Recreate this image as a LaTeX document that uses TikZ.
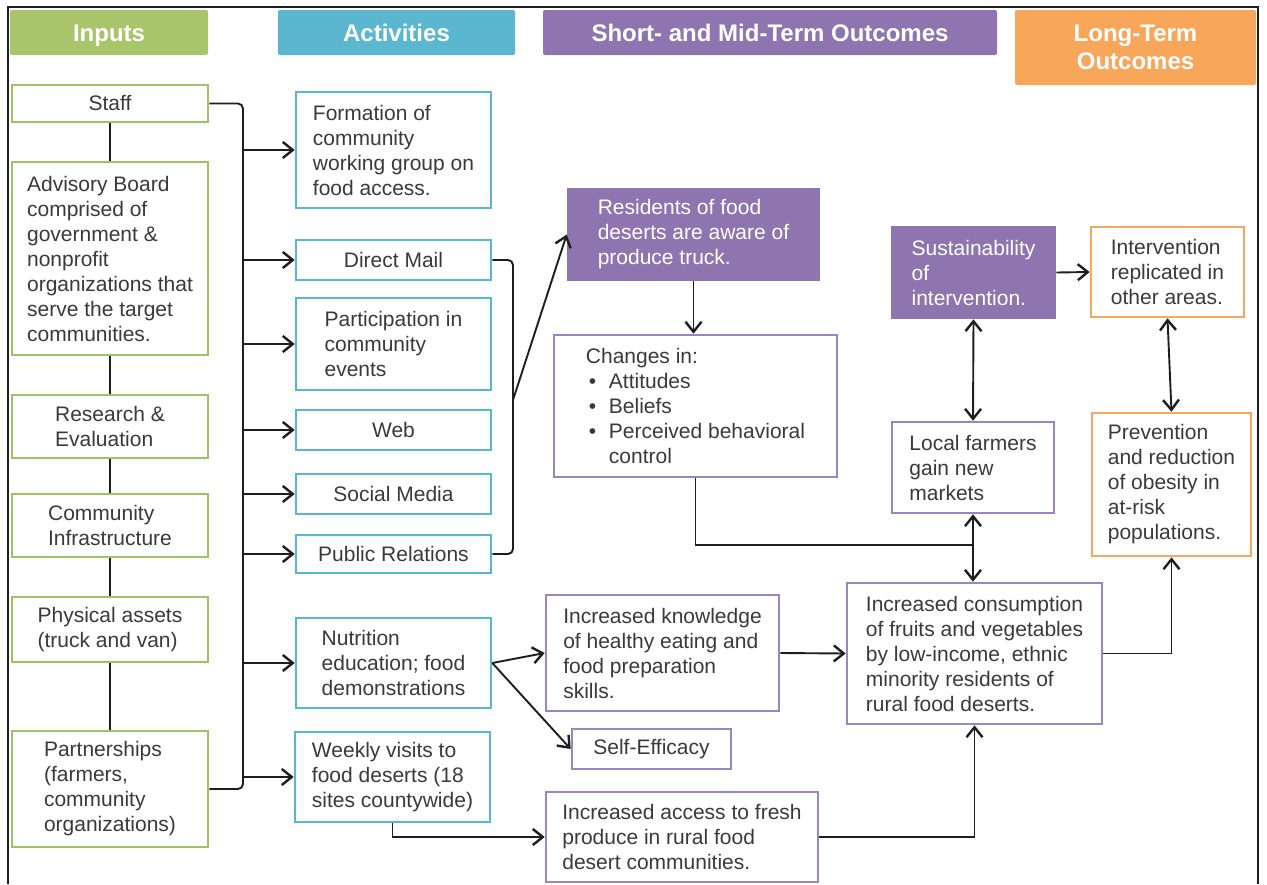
\documentclass[tikz,border=0pt]{standalone}
\usepackage{fontspec}
\setmainfont{Liberation Sans}
\usetikzlibrary{arrows.meta}
\definecolor{gfill}{HTML}{A8C56B}
\definecolor{gline}{HTML}{A0C262}
\definecolor{bfill}{HTML}{5BB7D0}
\definecolor{bline}{HTML}{55B8D4}
\definecolor{pfill}{HTML}{8E75B0}
\definecolor{pline}{HTML}{9C85C2}
\definecolor{ofill}{HTML}{F8A65A}
\definecolor{oline}{HTML}{F7A75E}
\definecolor{txt}{HTML}{3A3A3A}
\definecolor{lc}{HTML}{1E1E1E}
\newcommand\bx[7]{\node[#1, minimum width={#5-#3}, minimum height={#6-#4}] (#2) at ({(#3+#5)/2},{(#4+#6)/2}) {#7};}
\begin{document}
\begin{tikzpicture}[x=1pt,y=-1pt,
  base/.style={draw, line width=2.6pt, fill=white, align=left, text=txt, inner sep=0pt,
    font=\fontsize{21}{25}\selectfont},
  gbox/.style={base, draw=gline},
  bbox/.style={base, draw=bline},
  pbox/.style={base, draw=pline},
  obox/.style={base, draw=oline},
  pfbox/.style={base, draw=pfill, fill=pfill, text=white},
  hdr/.style={draw=none, rounded corners=2pt, text=white, align=center, inner sep=0pt,
    font=\bfseries\fontsize{24}{28}\selectfont},
  hdr1/.style={hdr, text height=17pt, text depth=0pt},
  conn/.style={draw=lc, line width=1.9pt},
  arr/.style={conn, -{Straight Barb[length=10pt,width=16pt,line width=2.4pt]}},
  darr/.style={conn, {Straight Barb[length=10pt,width=16pt,line width=2.4pt]}-{Straight Barb[length=10pt,width=16pt,line width=2.4pt]}}
]
\useasboundingbox (0,0) rectangle (1267,884);
\draw[line width=2pt, lc] (8,884) -- (8,7) -- (1258,7) -- (1258,884);

% headers
\bx{hdr1, fill=gfill}{h1}{10}{10}{208}{55}{Inputs}
\bx{hdr1, fill=bfill}{h2}{278}{10}{515}{55}{Activities}
\bx{hdr1, fill=pfill}{h3}{543}{10}{997}{55}{Short- and Mid-Term Outcomes}
\bx{hdr, fill=ofill}{h4}{1015}{10}{1256}{85}{Long-Term\\Outcomes}

% inputs
\bx{gbox}{staff}{12}{85}{208}{122}{Staff}
\bx{gbox}{adv}{12}{162}{208}{355}{Advisory Board\\comprised of\\government \&\\nonprofit\\organizations that\\serve the target\\communities.}
\bx{gbox}{res}{12}{395}{208}{458}{Research \&\\Evaluation}
\bx{gbox}{cinf}{12}{494}{208}{557}{Community\\Infrastructure}
\bx{gbox}{phys}{12}{597}{208}{662}{Physical assets\\(truck and van)}
\bx{gbox}{part}{12}{731}{208}{847}{Partnerships\\(farmers,\\community\\organizations)}

% activities
\bx{bbox}{form}{296}{92}{491}{208}{Formation of\\community\\working group on\\food access.}
\bx{bbox}{dm}{296}{240}{491}{280}{Direct Mail}
\bx{bbox}{pce}{296}{298}{491}{390}{Participation in\\community\\events}
\bx{bbox}{web}{296}{410}{491}{450}{Web}
\bx{bbox}{sm}{296}{474}{491}{514}{Social Media}
\bx{bbox}{pr}{296}{535}{491}{573}{Public Relations}
\bx{bbox}{nut}{296}{618}{491}{708}{Nutrition\\education; food\\demonstrations}
\bx{bbox}{wk}{295}{732}{490}{822}{Weekly visits to\\food deserts (18\\sites countywide)}

% short / mid-term outcomes
\bx{pfbox}{resid}{568}{189}{819}{280}{Residents of food\\deserts are aware of\\produce truck.}
\bx{pbox}{chg}{554}{335}{837}{477}{Changes in:\\\hspace*{3pt}\makebox[20pt][l]{\textbullet}Attitudes\\\hspace*{3pt}\makebox[20pt][l]{\textbullet}Beliefs\\\hspace*{3pt}\makebox[20pt][l]{\textbullet}Perceived behavioral\\\hspace*{23pt}control}
\bx{pfbox}{sus}{892}{227}{1055}{318}{Sustainability\\of\\intervention.}
\bx{pbox}{loc}{892}{422}{1054}{513}{Local farmers\\gain new\\markets}
\bx{pbox}{kno}{546}{595}{779}{711}{Increased knowledge\\of healthy eating and\\food preparation\\skills.}
\bx{pbox}{se}{572}{729}{731}{769}{Self-Efficacy}
\bx{pbox}{acc}{546}{792}{818}{882}{Increased access to fresh\\produce in rural food\\desert communities.}
\bx{pbox}{con}{847}{583}{1102}{724}{Increased consumption\\of fruits and vegetables\\by low-income, ethnic\\minority residents of\\rural food deserts.}

% long-term outcomes
\bx{obox}{intv}{1091}{227}{1244}{317}{Intervention\\replicated in\\other areas.}
\bx{obox}{prev}{1092}{413}{1251}{556}{Prevention\\and reduction\\of obesity in\\at-risk\\populations.}

% connectors: inputs chain
\draw[conn] (staff.south) -- (adv.north);
\draw[conn] (adv.south) -- (res.north);
\draw[conn] (res.south) -- (cinf.north);
\draw[conn] (cinf.south) -- (phys.north);
\draw[conn] (phys.south) -- (part.north);

% inputs bracket
\coordinate (bar) at (243,0);
\draw[conn, rounded corners=5pt] (staff.east) -- (bar |- staff.east) -- (bar |- part.east) -- (part.east);
\foreach \n in {form,dm,pce,web,sm,pr,nut,wk}
  \draw[arr] (bar |- \n.west) -- (\n.west);

% activities bracket
\coordinate (bar2) at (513,0);
\draw[conn, rounded corners=5pt] (dm.east) -- (bar2 |- dm.east) -- (bar2 |- pr.east) -- (pr.east);
\coordinate (j1) at (513,400);
\draw[arr] (j1) -- (resid.west);

\draw[arr] (resid.south) -- (resid.south |- chg.north);
\coordinate (j2) at (973,545);
\draw[conn] (chg.south) |- (j2);
\draw[darr] (loc.south) -- (loc.south |- con.north);
\draw[darr] (sus.south) -- (loc.north);
\draw[arr] (sus.east) -- (intv.west);
\draw[darr] (intv.south) -- (prev.north);
\draw[arr] (con.east) -| (prev.south);

\draw[arr] (nut.east) -- (kno.west);
\draw[arr] (nut.east) -- (se.west);
\draw[arr] (kno.east) -- (con.west);
\draw[arr] (wk.south) |- (acc.west);
\draw[arr] (acc.east) -| (con.south);
\end{tikzpicture}
\end{document}
